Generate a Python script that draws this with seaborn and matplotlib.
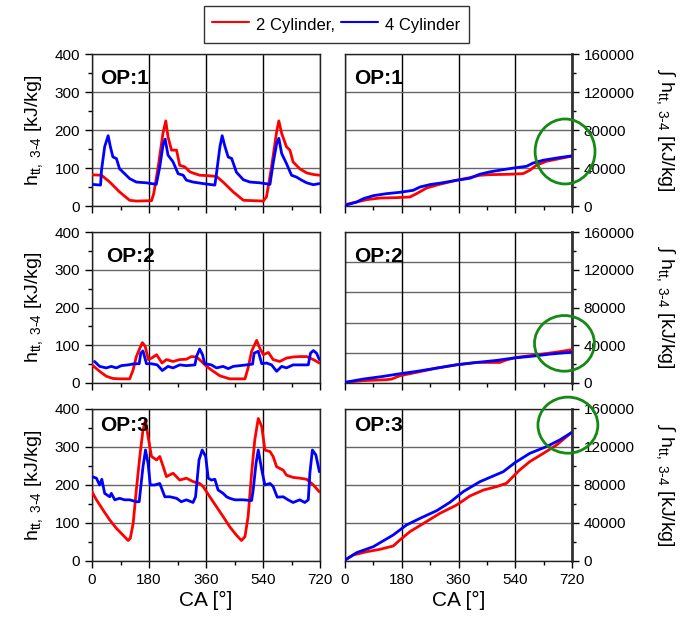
import numpy as np
import pandas as pd
import matplotlib
matplotlib.use("Agg")
import matplotlib.pyplot as plt
import seaborn as sns
from matplotlib.patches import Ellipse
from matplotlib.lines import Line2D
from matplotlib.ticker import MultipleLocator

# ---------------- data ----------------
# OP:1 enthalpy, 2 cylinder
op1_2c_ca = [0, 30, 56, 87, 119, 140, 188, 195, 209, 224, 233, 240, 251, 267, 277, 293, 309, 325, 340,
             362, 393, 414, 446, 478, 541, 551, 567, 583, 590, 599, 614, 625, 635, 656, 678, 699, 718]
op1_2c_h = [82, 81, 63, 37, 15, 13, 14, 33, 103, 191, 224, 182, 147, 147, 107, 103, 90, 85, 81,
            80, 78, 63, 37, 15, 13, 24, 103, 195, 224, 191, 156, 147, 116, 98, 87, 83, 81]
# OP:1 enthalpy, 4 cylinder
op1_4c_ca = [0, 27, 30, 40, 51, 58, 66, 77, 87, 103, 119, 140, 172, 203, 214, 225, 231, 240, 256, 272,
             288, 298, 319, 351, 388, 393, 404, 411, 420, 430, 441, 456, 478, 499, 530, 562, 572, 583,
             590, 599, 614, 630, 646, 662, 678, 699, 718]
op1_4c_h = [57, 55, 94, 156, 185, 156, 129, 125, 98, 85, 72, 63, 61, 57, 103, 164, 176, 134, 116, 85,
            81, 68, 63, 59, 55, 85, 156, 185, 156, 129, 125, 89, 69, 63, 61, 57, 112, 164,
            178, 138, 112, 81, 76, 68, 61, 56, 59]
# OP:2 enthalpy, 2 cylinder
op2_2c_ca = [0, 24, 45, 66, 87, 119, 130, 140, 151, 159, 168, 178, 188, 204, 221, 235, 256, 277, 298,
             314, 330, 346, 362, 383, 404, 435, 483, 493, 504, 520, 530, 541, 557, 572, 593, 614, 635,
             656, 678, 699, 718]
op2_2c_h = [48, 31, 18, 12, 11, 11, 35, 70, 92, 107, 97, 62, 66, 75, 53, 62, 57, 62, 63,
            70, 69, 57, 44, 31, 19, 11, 11, 40, 84, 113, 92, 75, 81, 62, 57, 66, 69,
            70, 70, 62, 53]
# OP:2 enthalpy, 4 cylinder
op2_4c_ca = [8, 24, 45, 61, 77, 93, 114, 135, 149, 154, 161, 172, 188, 206, 222, 240, 256, 277, 298,
             325, 330, 340, 349, 356, 377, 393, 414, 430, 446, 467, 488, 507, 512, 525, 536, 551, 567,
             583, 599, 614, 635, 656, 683, 690, 699, 709, 718]
op2_4c_h = [57, 44, 40, 44, 40, 46, 48, 51, 51, 79, 85, 51, 51, 48, 33, 44, 40, 48, 46,
            48, 70, 90, 75, 51, 48, 40, 44, 38, 44, 46, 48, 50, 79, 84, 51, 53, 48,
            31, 44, 40, 48, 48, 48, 79, 86, 79, 62]
# OP:3 enthalpy, 2 cylinder
op3_2c_ca = [0, 14, 35, 56, 77, 98, 114, 121, 130, 140, 151, 161, 169, 177, 188, 204, 214, 225, 235,
             256, 277, 298, 319, 340, 351, 372, 393, 414, 435, 456, 472, 483, 493, 504, 514, 525, 536,
             546, 562, 572, 583, 604, 614, 635, 656, 678, 699, 718]
op3_2c_h = [182, 161, 134, 108, 86, 68, 54, 60, 99, 187, 275, 345, 371, 327, 275, 266, 275, 248, 222,
            231, 213, 218, 209, 204, 196, 169, 143, 117, 90, 68, 54, 64, 117, 231, 318, 375, 354,
            292, 288, 275, 248, 239, 226, 220, 218, 215, 200, 182]
# OP:3 enthalpy, 4 cylinder
op3_4c_ca = [0, 14, 24, 31, 40, 56, 61, 72, 87, 103, 119, 140, 149, 161, 169, 177, 184, 198, 214, 230,
             246, 267, 282, 298, 319, 327, 338, 348, 359, 367, 377, 388, 398, 414, 425, 435, 451, 478,
             504, 509, 518, 525, 536, 546, 562, 572, 585, 604, 619, 635, 656, 672, 683, 688, 696, 707,
             718]
op3_4c_h = [222, 218, 200, 215, 178, 169, 178, 161, 165, 161, 161, 156, 156, 248, 292, 257, 200, 200,
            204, 169, 169, 165, 156, 161, 154, 169, 266, 292, 275, 218, 213, 215, 187, 178, 169, 165,
            161, 161, 159, 187, 257, 292, 240, 200, 204, 196, 168, 169, 161, 154, 161, 154, 161, 231,
            292, 279, 235]

# Integrated enthalpy
op1_int_2c_ca = [0, 37, 69, 111, 164, 206, 227, 259, 301, 354, 396, 427, 459, 522, 565, 586, 607, 639, 681, 718]
op1_int_2c = [1400, 4200, 6700, 8400, 8800, 9500, 13000, 19000, 22900, 27100, 29900, 32300, 33000,
              33400, 34100, 37600, 42900, 47100, 49900, 52400]
op1_int_4c_ca = [0, 37, 58, 90, 132, 174, 216, 238, 269, 312, 354, 396, 427, 459, 502, 544, 576, 597, 629, 681, 718]
op1_int_4c = [700, 4200, 7700, 10900, 13000, 14400, 16500, 20000, 22500, 24600, 27100, 29200, 33400,
              35900, 38300, 40400, 41800, 45300, 48200, 51000, 52700]
op2_int_2c_ca = [0, 58, 132, 148, 174, 227, 291, 354, 418, 491, 513, 544, 608, 671, 718]
op2_int_2c = [700, 2500, 3500, 4200, 7700, 11300, 15800, 19300, 21800, 21800, 24600, 27100, 29900, 32700, 35200]
op2_int_4c_ca = [0, 58, 121, 174, 227, 291, 354, 418, 480, 533, 586, 650, 718]
op2_int_4c = [700, 4200, 7000, 9800, 12300, 15800, 19300, 21800, 23900, 26400, 28100, 30600, 32700]
op3_int_2c_ca = [0, 26, 69, 111, 153, 174, 206, 249, 301, 354, 396, 439, 480, 512, 533, 554, 586, 629, 671, 718]
op3_int_2c = [1000, 6300, 9800, 12300, 15800, 22100, 30900, 39600, 50200, 58900, 68400, 74700, 78200,
              81800, 88800, 95800, 104600, 113300, 122100, 135100]
op3_int_4c_ca = [0, 37, 90, 153, 195, 238, 291, 333, 375, 428, 502, 539, 586, 639, 681, 718]
op3_int_4c = [1000, 8800, 15100, 27400, 37900, 44900, 53000, 61800, 73000, 83500, 94000, 103500,
              113300, 120400, 127400, 135100]

op_labels = ["OP:1", "OP:2", "OP:3"]
series_labels = ["2 Cylinder,", "4 Cylinder"]
ca_ticks = [0, 180, 360, 540, 720]
h_ticks = [0, 100, 200, 300, 400]
int_ticks = [0, 40000, 80000, 120000, 160000]

# highlight circles on the integrated panels (centre CA, centre value, half-width CA, half-height value)
highlights = [(698, 57400, 95, 34200), (696, 42000, 95, 29500), (707, 143000, 95, 29500)]

# ---------------- style ----------------
sns.set_style("ticks")
plt.rcParams["font.family"] = ["Liberation Sans", "DejaVu Sans"]
plt.rcParams["mathtext.fontset"] = "custom"
plt.rcParams["mathtext.rm"] = "Liberation Sans"
plt.rcParams["mathtext.it"] = "Liberation Sans:italic"
plt.rcParams["mathtext.bf"] = "Liberation Sans:bold"
for k in ["text.color", "axes.labelcolor", "xtick.color", "ytick.color", "xtick.labelcolor",
          "ytick.labelcolor"]:
    plt.rcParams[k] = "black"

RED = "#ff0000"
BLUE = "#0000ff"

left_series = [
    (op1_2c_ca, op1_2c_h, op1_4c_ca, op1_4c_h),
    (op2_2c_ca, op2_2c_h, op2_4c_ca, op2_4c_h),
    (op3_2c_ca, op3_2c_h, op3_4c_ca, op3_4c_h),
]
right_series = [
    (op1_int_2c_ca, op1_int_2c, op1_int_4c_ca, op1_int_4c),
    (op2_int_2c_ca, op2_int_2c, op2_int_4c_ca, op2_int_4c),
    (op3_int_2c_ca, op3_int_2c, op3_int_4c_ca, op3_int_4c),
]

fig = plt.figure(figsize=(6.91, 6.19), dpi=100)
W, H = 691.0, 619.0
rows_px = [(54, 206), (232, 383), (409, 561)]
left_px = (92, 320)
right_px = (345, 572)

ylab_left = r"h$_{\mathrm{tt,\ 3\text{-}4}}$ [kJ/kg]"
ylab_right = r"$\int$ h$_{\mathrm{tt,\ 3\text{-}4}}$ [kJ/kg]"


def style_common(ax, bottom_row):
    ax.set_xlim(0, 720)
    ax.set_xticks(ca_ticks)
    ax.xaxis.set_minor_locator(MultipleLocator(90))
    ax.tick_params(axis="both", which="major", direction="out", length=5, width=1, labelsize=11,
                   color="black", labelcolor="black")
    ax.tick_params(axis="both", which="minor", direction="out", length=3, width=1, color="black")
    ax.xaxis.grid(True, which="major", color="black", lw=1)
    for s in ax.spines.values():
        s.set_color("#222222")
        s.set_linewidth(1)
    if bottom_row:
        ax.set_xlabel("CA [°]", fontsize=15, labelpad=3)
    else:
        ax.set_xticklabels([])
        ax.set_xlabel("")


for i in range(3):
    top, bot = rows_px[i]
    b = 1 - bot / H
    h = (bot - top) / H
    axL = fig.add_axes([left_px[0] / W, b, (left_px[1] - left_px[0]) / W, h])
    axR = fig.add_axes([right_px[0] / W, b, (right_px[1] - right_px[0]) / W, h])

    ca2, v2, ca4, v4 = left_series[i]
    sns.lineplot(x=ca2, y=v2, ax=axL, color=RED, lw=2, estimator=None, sort=False, zorder=3)
    sns.lineplot(x=ca4, y=v4, ax=axL, color=BLUE, lw=2, estimator=None, sort=False, zorder=4)
    axL.set_ylim(0, 400)
    axL.set_yticks(h_ticks)
    axL.yaxis.set_minor_locator(MultipleLocator(50))
    style_common(axL, i == 2)
    axL.yaxis.grid(True, which="major", color="#666666", lw=1)
    axL.set_axisbelow(True)
    axL.set_ylabel(ylab_left, fontsize=14, labelpad=7)
    axL.text(0.06 if i == 1 else 0.035, 0.84 if i < 2 else 0.89, op_labels[i],
             transform=axL.transAxes, fontsize=15, fontweight="bold", ha="left", va="center",
             zorder=6)

    ca2, v2, ca4, v4 = right_series[i]
    sns.lineplot(x=ca2, y=v2, ax=axR, color=RED, lw=2, estimator=None, sort=False, zorder=3)
    sns.lineplot(x=ca4, y=v4, ax=axR, color=BLUE, lw=2, estimator=None, sort=False, zorder=4)
    axR.set_ylim(0, 160000)
    axR.set_yticks(int_ticks)
    axR.yaxis.set_minor_locator(MultipleLocator(20000))
    axR.yaxis.tick_right()
    axR.yaxis.set_label_position("right")
    axR.ticklabel_format(style="plain", axis="y", useOffset=False)
    style_common(axR, i == 2)
    axR.tick_params(axis="y", which="both", left=False, right=True)
    axR.spines["right"].set_linewidth(2)
    axR.spines["right"].set_color("#333333")
    if i == 1:
        axR.yaxis.grid(False)
        for gy in np.linspace(0, 160000, 6):
            axR.axhline(gy, color="#666666", lw=1, zorder=0.5)
    else:
        axR.yaxis.grid(True, which="major", color="#666666", lw=1)
    axR.set_axisbelow(True)
    axR.set_ylabel(ylab_right, fontsize=14, rotation=270, va="bottom", labelpad=14)
    axR.text(0.04, 0.84 if i < 2 else 0.89, op_labels[i], transform=axR.transAxes, fontsize=15,
             fontweight="bold", ha="left", va="center", zorder=6)
    cx, cy, rx, ry = highlights[i]
    axR.add_patch(Ellipse((cx, cy), 2 * rx, 2 * ry, fill=False, ec="#138a13", lw=2,
                          clip_on=False, zorder=7))

handles = [Line2D([], [], color=RED, lw=1.5), Line2D([], [], color=BLUE, lw=1.5)]
leg = fig.legend(handles, series_labels, loc="center", bbox_to_anchor=(0.487, 0.96), ncol=2,
                 frameon=True, fancybox=False, edgecolor="black", fontsize=12, handlelength=2.2,
                 handleheight=1.5, columnspacing=0.35, handletextpad=0.45, borderpad=0.5)
leg.get_frame().set_linewidth(1)

fig.savefig("out.png", dpi=100)
